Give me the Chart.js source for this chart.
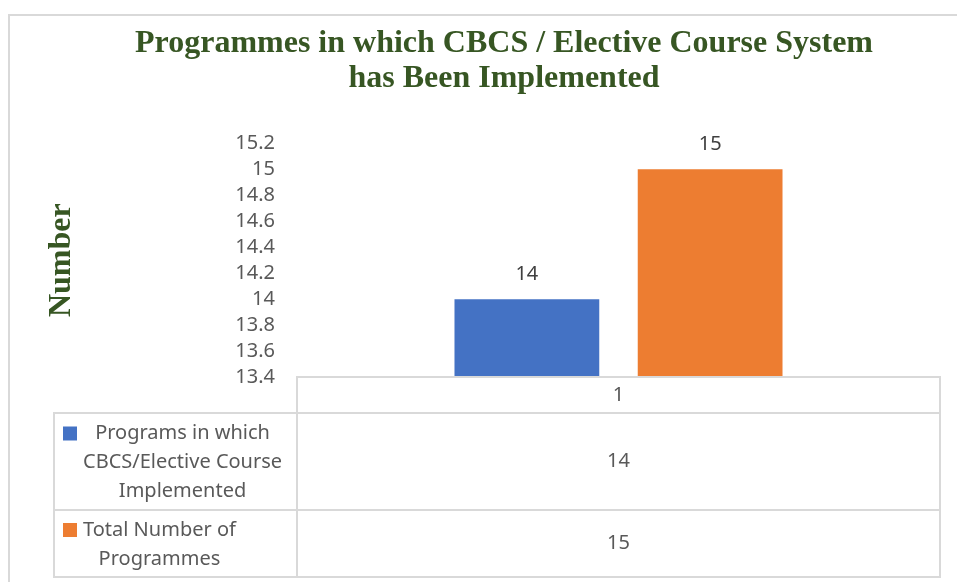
<!DOCTYPE html>
<html lang="en">
  <head>
    <meta charset="UTF-8" />
    <title>CBCS Programmes</title>
    <style>
      body {
        margin: 0;
        background-color: #ffffff;
      }
      #chart {
        display: block;
      }
    </style>
  </head>
  <body>
    <canvas id="chart" width="957" height="582"></canvas>

    <script src="https://cdn.jsdelivr.net/npm/chart.js"></script>
    <script>
      const categories = ["1"];
      const seriesNames = [
        ["Programs in which", "CBCS/Elective Course", "Implemented"],
        ["Total Number of", "Programmes"],
      ];
      const implementedValues = [14];
      const totalValues = [15];
      const seriesColors = ["#4472C4", "#ED7D31"];
      const yTicks = { min: 13.4, max: 15.2, step: 0.2 };

      const textFont = "'Noto Sans', sans-serif";
      const serifFont = "'Liberation Serif', 'Times New Roman', serif";
      const lineColor = "#d9d9d9";
      const padLeft = 68;

      // outer frame of the chart, like the Excel chart border
      const framePlugin = {
        id: "frame",
        beforeDraw(chart) {
          const ctx = chart.ctx;
          ctx.save();
          ctx.strokeStyle = lineColor;
          ctx.lineWidth = 2;
          ctx.beginPath();
          ctx.moveTo(9, chart.height);
          ctx.lineTo(9, 15);
          ctx.lineTo(chart.width, 15);
          ctx.stroke();
          ctx.restore();
        },
      };

      // value labels above the bars
      const valueLabels = {
        id: "valueLabels",
        afterDatasetsDraw(chart) {
          const ctx = chart.ctx;
          ctx.save();
          ctx.font = "20px " + textFont;
          ctx.fillStyle = "#404040";
          ctx.textAlign = "center";
          ctx.textBaseline = "middle";
          chart.data.datasets.forEach((ds, i) => {
            chart.getDatasetMeta(i).data.forEach((bar, j) => {
              ctx.fillText(ds.data[j], bar.x, bar.y - 25);
            });
          });
          ctx.restore();
        },
      };

      // data table under the plot, with legend keys
      const dataTable = {
        id: "dataTable",
        afterDraw(chart) {
          const ctx = chart.ctx;
          const area = chart.chartArea;
          const left = 54;
          const headerH = 36;
          const lineH = 29;
          const rowH = [97, 67];

          ctx.save();
          ctx.strokeStyle = lineColor;
          ctx.lineWidth = 2;
          ctx.font = "20px " + textFont;
          ctx.fillStyle = "#595959";
          ctx.textAlign = "center";
          ctx.textBaseline = "middle";

          let top = area.bottom;
          ctx.strokeRect(area.left, top, area.right - area.left, headerH);
          categories.forEach((c) => {
            ctx.fillText(c, (area.left + area.right) / 2, top + headerH / 2);
          });
          top += headerH;

          chart.data.datasets.forEach((ds, i) => {
            const h = rowH[i];
            ctx.strokeRect(left, top, area.left - left, h);
            ctx.strokeRect(area.left, top, area.right - area.left, h);

            const lines = seriesNames[i];
            const firstY = top + h / 2 - ((lines.length - 1) * lineH) / 2;
            ctx.fillStyle = ds.backgroundColor;
            ctx.fillRect(63, firstY - 6, 14, 14);

            const widest = Math.max(...lines.map((l) => ctx.measureText(l).width));
            const cx = 83 + widest / 2;
            ctx.fillStyle = "#595959";
            lines.forEach((l, k) => ctx.fillText(l, cx, firstY + 1 + k * lineH));

            ds.data.forEach((v) => {
              ctx.fillText(v, (area.left + area.right) / 2, top + h / 2);
            });
            top += h;
          });
          ctx.restore();
        },
      };

      const ctx = document.getElementById("chart").getContext("2d");

      new Chart(ctx, {
        type: "bar",
        data: {
          labels: categories,
          datasets: [
            {
              label: seriesNames[0].join(" "),
              data: implementedValues,
              backgroundColor: seriesColors[0],
            },
            {
              label: seriesNames[1].join(" "),
              data: totalValues,
              backgroundColor: seriesColors[1],
            },
          ],
        },
        options: {
          responsive: false,
          animation: false,
          categoryPercentage: 0.57,
          barPercentage: 0.79,
          layout: {
            padding: { left: padLeft, right: 17, bottom: 205 },
          },
          plugins: {
            legend: { display: false },
            tooltip: { enabled: false },
            title: {
              display: true,
              text: [
                "Programmes in which CBCS / Elective Course System",
                "has Been Implemented",
              ],
              color: "#375623",
              font: {
                family: serifFont,
                size: 32,
                weight: "bold",
                lineHeight: 1.1,
              },
              padding: { top: 26, bottom: 47 },
            },
          },
          scales: {
            x: { display: false },
            y: {
              min: yTicks.min,
              max: yTicks.max,
              grid: { display: false, drawTicks: false },
              border: { display: false },
              ticks: {
                stepSize: yTicks.step,
                autoSkip: false,
                padding: 22,
                color: "#595959",
                font: { family: textFont, size: 20 },
                callback: (v) => String(Math.round(v * 10) / 10),
              },
              title: {
                display: true,
                text: "Number",
                color: "#375623",
                font: { family: serifFont, size: 32, weight: "bold" },
                padding: { top: 43 - padLeft },
              },
              afterFit: (scale) => {
                scale.width = 297 - padLeft;
              },
            },
          },
        },
        plugins: [framePlugin, valueLabels, dataTable],
      });
    </script>
  </body>
</html>
